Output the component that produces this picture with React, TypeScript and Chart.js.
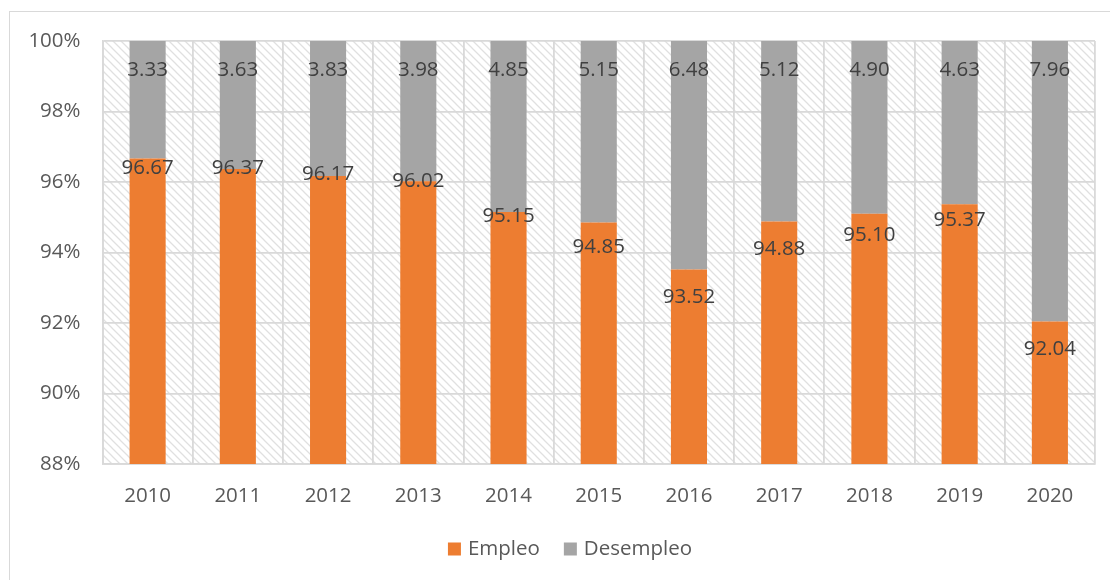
import React, { useEffect, useRef } from "react";
import { Chart, registerables } from "chart.js";

Chart.register(...registerables);

const years = ["2010", "2011", "2012", "2013", "2014", "2015", "2016", "2017", "2018", "2019", "2020"];
const empleo = [96.67, 96.37, 96.17, 96.02, 95.15, 94.85, 93.52, 94.88, 95.1, 95.37, 92.04];
const desempleo = [3.33, 3.63, 3.83, 3.98, 4.85, 5.15, 6.48, 5.12, 4.9, 4.63, 7.96];
// vertical nudges (px) of the Empleo labels below the bar top, as placed in the original
const empleoLabelShift = [10, -1, -2, 0, 4, 25, 28, 28, 21, 16, 28];
const yTicks = [88, 90, 92, 94, 96, 98, 100];

const ORANGE = "#ED7D31";
const GRAY = "#A5A5A5";
const FONT = "'Open Sans', 'Noto Sans', sans-serif";
const FS = 20.5;

function makePattern(): CanvasPattern | string {
  const s = 8;
  const c = document.createElement("canvas");
  c.width = s;
  c.height = s;
  const g = c.getContext("2d");
  if (!g) return "#fff";
  g.fillStyle = "#ffffff";
  g.fillRect(0, 0, s, s);
  g.strokeStyle = "#e0e0e0";
  g.lineWidth = 1.3;
  g.beginPath();
  g.moveTo(-1, -1);
  g.lineTo(s + 1, s + 1);
  g.moveTo(-1, s - 1);
  g.lineTo(1, s + 1);
  g.moveTo(s - 1, -1);
  g.lineTo(s + 1, 1);
  g.stroke();
  const p = g.createPattern(c, "repeat");
  return p || "#fff";
}

const hatchPlugin = {
  id: "hatch",
  beforeDraw(chart: any) {
    const { ctx, chartArea } = chart;
    ctx.save();
    ctx.fillStyle = makePattern();
    ctx.fillRect(chartArea.left, chartArea.top, chartArea.right - chartArea.left, chartArea.bottom - chartArea.top);
    ctx.restore();
  },
};

const labelsPlugin = {
  id: "barLabels",
  afterDatasetsDraw(chart: any) {
    const { ctx, chartArea } = chart;
    ctx.save();
    ctx.font = `${FS}px ${FONT}`;
    ctx.fillStyle = "#404040";
    ctx.textAlign = "center";
    ctx.textBaseline = "middle";
    const m0 = chart.getDatasetMeta(0);
    const m1 = chart.getDatasetMeta(1);
    m0.data.forEach((el: any, i: number) => {
      ctx.fillText(empleo[i].toFixed(2), el.x, el.y + empleoLabelShift[i]);
    });
    m1.data.forEach((el: any, i: number) => {
      const top = Math.max(el.y, chartArea.top);
      ctx.fillText(desempleo[i].toFixed(2), el.x, top + 29);
    });
    ctx.restore();
  },
};

const legendPlugin = {
  id: "customLegend",
  afterDraw(chart: any) {
    const { ctx } = chart;
    const items = [
      { text: "Empleo", color: ORANGE },
      { text: "Desempleo", color: GRAY },
    ];
    ctx.save();
    ctx.font = `${FS}px ${FONT}`;
    const box = 13;
    const gap = 7;
    const itemGap = 24;
    const widths = items.map((it) => box + gap + ctx.measureText(it.text).width);
    const total = widths.reduce((a, b) => a + b, 0) + itemGap * (items.length - 1);
    let x = 570 - total / 2;
    const cy = 549;
    ctx.textBaseline = "middle";
    ctx.textAlign = "left";
    items.forEach((it, i) => {
      ctx.fillStyle = it.color;
      ctx.fillRect(x, cy - box / 2, box, box);
      ctx.fillStyle = "#595959";
      ctx.fillText(it.text, x + box + gap, cy);
      x += widths[i] + itemGap;
    });
    ctx.restore();
  },
};

export default function App() {
  const ref = useRef<HTMLCanvasElement>(null);

  useEffect(() => {
    document.body.style.margin = "0";
    if (!ref.current) return;
    const chart = new Chart(ref.current, {
      type: "bar",
      data: {
        labels: years,
        datasets: [
          { label: "Empleo", data: empleo, backgroundColor: ORANGE, barPercentage: 0.8, categoryPercentage: 0.5 },
          { label: "Desempleo", data: desempleo, backgroundColor: GRAY, barPercentage: 0.8, categoryPercentage: 0.5 },
        ],
      },
      options: {
        responsive: false,
        animation: false,
        maintainAspectRatio: false,
        layout: { padding: { top: 41, right: 15, left: 0, bottom: 0 } },
        plugins: { legend: { display: false }, tooltip: { enabled: false } },
        scales: {
          x: {
            stacked: true,
            grid: { color: "#d9d9d9", lineWidth: 1.8, offset: true, drawTicks: false },
            border: { color: "#d9d9d9", width: 1.8 },
            ticks: { color: "#595959", font: { size: FS, family: FONT }, padding: 20 },
            afterFit(scale: any) {
              scale.height = 116;
            },
          },
          y: {
            stacked: true,
            min: 88,
            max: 100,
            afterBuildTicks(scale: any) {
              scale.ticks = yTicks.map((v) => ({ value: v }));
            },
            grid: { color: "#d9d9d9", lineWidth: 1.8, drawTicks: false },
            border: { color: "#d9d9d9", width: 1.8 },
            ticks: {
              color: "#595959",
              font: { size: FS, family: FONT },
              padding: 22,
              callback: (v: any) => `${v}%`,
            },
            afterFit(scale: any) {
              scale.width = 102.5;
            },
          },
        },
      },
      plugins: [hatchPlugin, labelsPlugin, legendPlugin],
    });
    return () => chart.destroy();
  }, []);

  return (
    <div style={{ position: "relative", width: 1110, height: 580, background: "#fff", overflow: "hidden" }}>
      <div
        style={{
          position: "absolute",
          left: 9,
          top: 11,
          width: 1200,
          height: 700,
          borderLeft: "1.5px solid #d9d9d9",
          borderTop: "1.5px solid #d9d9d9",
          pointerEvents: "none",
        }}
      />
      <canvas ref={ref} width={1110} height={580} style={{ position: "absolute", left: 0, top: 0 }} />
    </div>
  );
}
